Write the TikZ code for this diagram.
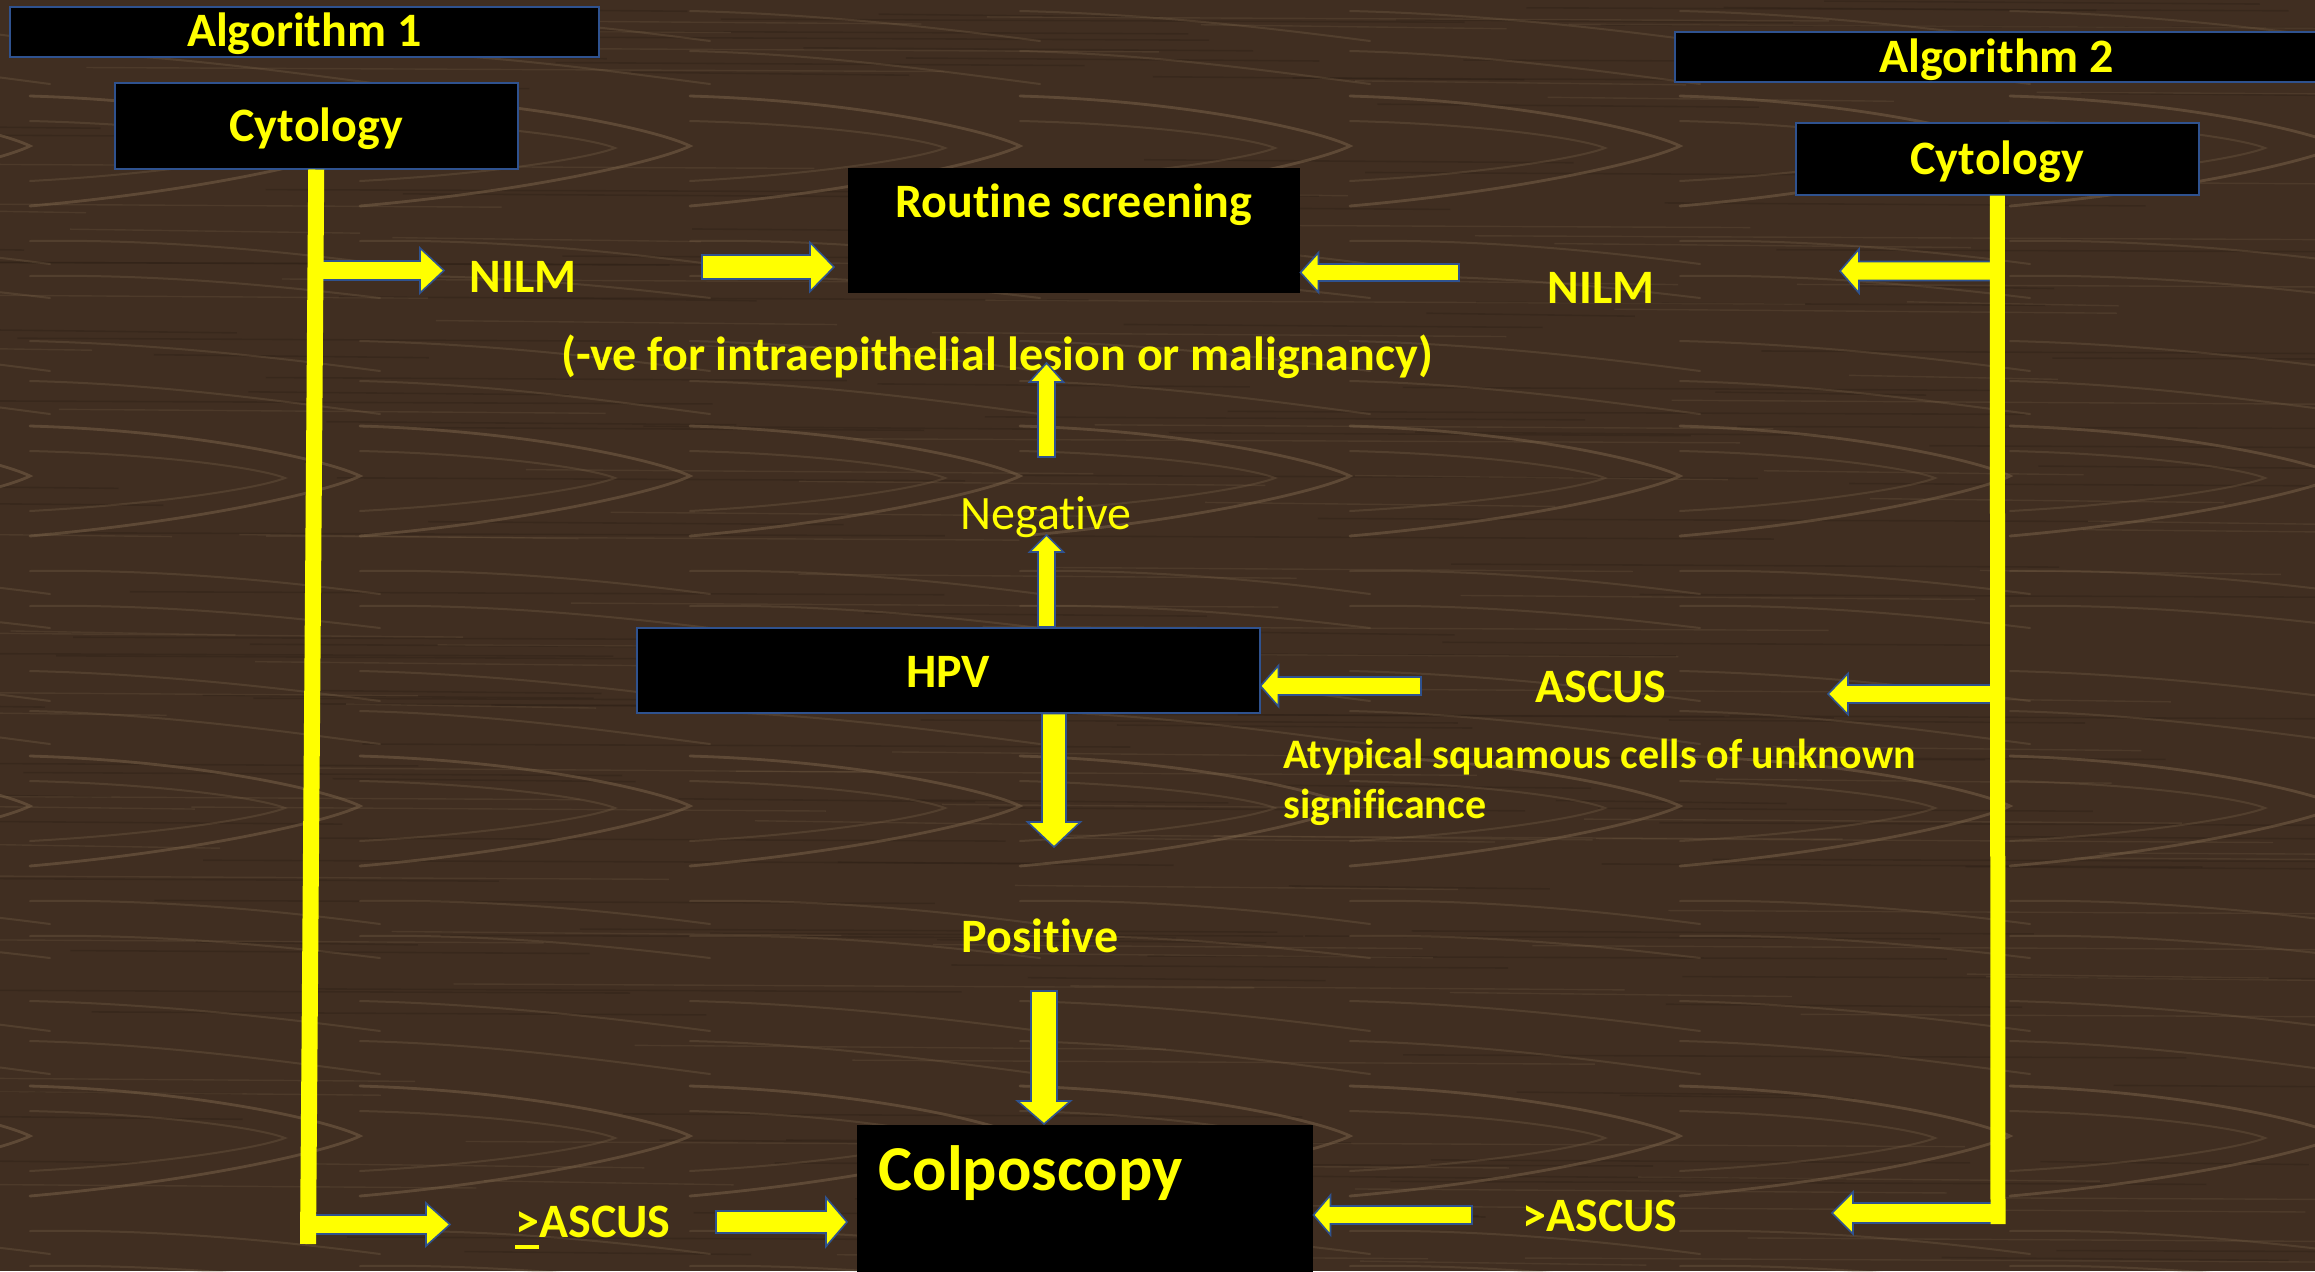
\documentclass[tikz,border=0pt]{standalone}
\usepackage{fontspec}
\setmainfont{Carlito}[Ligatures=NoCommon]
\usetikzlibrary{calc}
\definecolor{woodbase}{RGB}{64,46,33}
\definecolor{grainc}{RGB}{132,108,80}
\definecolor{darkgrain}{RGB}{40,28,19}
\definecolor{ylw}{RGB}{255,255,0}
\definecolor{outlineblue}{RGB}{47,82,143}
\newcommand\ulgt{\setbox0=\hbox{>}\rlap{\rule[-6pt]{\wd0}{2pt}}\box0}
\begin{document}
\begin{tikzpicture}[x=0.5pt,y=-0.5pt,
  grain/.style={draw=grainc, line width=1.4pt, opacity=0.45, line cap=round},
  faint/.style={draw=grainc, line width=1pt, opacity=0.28, line cap=round},
  streakd/.style={draw=darkgrain, line width=0.8pt, opacity=0.3},
  streakl/.style={draw=grainc, line width=0.7pt, opacity=0.2},
  box/.style={fill=black, draw=outlineblue, line width=0.75pt, inner sep=0pt,
    text=ylw, font=\bfseries\fontsize{24}{29}\selectfont},
  txt/.style={text=ylw, inner sep=0pt, font=\bfseries\fontsize{24}{29}\selectfont},
  vline/.style={draw=ylw, line cap=butt},
  blockarrow/.style n args={3}{fill=ylw, draw=outlineblue, line width=0.8pt, line join=miter,
    to path={let \p1=(\tikztostart), \p2=(\tikztotarget),
      \n3={veclen(\x2-\x1,\y2-\y1)}, \n1={(\x2-\x1)/\n3}, \n2={(\y2-\y1)/\n3},
      \n4={#1*0.5}, \n5={#2*0.5}, \n6={#3*0.5} in
      ({\x1-(\n2)*\n4},{\y1+(\n1)*\n4})
      -- ({\x2-(\n1)*\n6-(\n2)*\n4},{\y2-(\n2)*\n6+(\n1)*\n4})
      -- ({\x2-(\n1)*\n6-(\n2)*\n5},{\y2-(\n2)*\n6+(\n1)*\n5})
      -- (\p2)
      -- ({\x2-(\n1)*\n6+(\n2)*\n5},{\y2-(\n2)*\n6-(\n1)*\n5})
      -- ({\x2-(\n1)*\n6+(\n2)*\n4},{\y2-(\n2)*\n6-(\n1)*\n4})
      -- ({\x1+(\n2)*\n4},{\y1-(\n1)*\n4})
      -- cycle}}
]
\useasboundingbox (0,0) rectangle (2315,1271);
% ---------- wood background ----------
\begin{scope}
\clip (0,0) rectangle (2315,1271);
\fill[woodbase] (0,0) rectangle (2315,1271);
\pgfmathsetseed{11}
\foreach \i in {1,...,160}{
  \pgfmathsetmacro\yy{rnd*1271}
  \pgfmathsetmacro\xx{rnd*2315-200}
  \pgfmathsetmacro\ll{200+rnd*700}
  \draw[streakd] (\xx,\yy) -- ++(\ll,3);
}
\foreach \i in {1,...,120}{
  \pgfmathsetmacro\yy{rnd*1271}
  \pgfmathsetmacro\xx{rnd*2315-200}
  \pgfmathsetmacro\ll{200+rnd*700}
  \draw[streakl] (\xx,\yy) -- ++(\ll,4);
}
\foreach \tx in {30,360,...,2340}{
  \foreach \ty in {146,476,806,1136}{
    \draw[grain] (\tx-330,\ty-50) .. controls (\tx-160,\ty-45) and (\tx-30,\ty-15) .. (\tx,\ty)
      .. controls (\tx-30,\ty+15) and (\tx-160,\ty+45) .. (\tx-330,\ty+60);
    \draw[faint] (\tx-330,\ty-25) .. controls (\tx-200,\ty-22) and (\tx-100,\ty-8) .. (\tx-75,\ty+2)
      .. controls (\tx-100,\ty+12) and (\tx-200,\ty+28) .. (\tx-330,\ty+35);
    \draw[faint] (\tx-330,\ty-95) .. controls (\tx-200,\ty-92) and (\tx-80,\ty-75) .. (\tx+20,\ty-62);
    \draw[faint] (\tx-330,\ty-135) .. controls (\tx-200,\ty-132) and (\tx-80,\ty-118) .. (\tx+20,\ty-105);
    \draw[faint] (\tx-330,\ty+95) .. controls (\tx-200,\ty+93) and (\tx-80,\ty+105) .. (\tx+20,\ty+118);
    \draw[faint] (\tx-330,\ty+130) .. controls (\tx-200,\ty+128) and (\tx-80,\ty+140) .. (\tx+20,\ty+152);
  }
}
\end{scope}
% ---------- boxes ----------
\node[box, anchor=north west, minimum width=294.5pt, text height=20pt, text depth=5pt] (alg1) at (9,6) {Algorithm 1};
\node[box, anchor=north west, minimum width=322pt, text height=20.5pt, text depth=4.5pt] (alg2) at (1674,31) {Algorithm 2};
\node[box, anchor=north west, minimum width=201.5pt, text height=29.5pt, text depth=13.5pt] (cyt1) at (114,82) {Cytology};
\node[box, anchor=north west, minimum width=201.5pt, text height=26pt, text depth=10pt] (cyt2) at (1795,122) {Cytology};
\node[box, draw=none, anchor=north west, minimum width=226pt, text height=25pt, text depth=37.5pt] (routine) at (847,167) {Routine screening};
\node[box, anchor=north west, minimum width=311.5pt, text height=30pt, text depth=12.5pt] (hpv) at (636,627) {HPV};
\node[box, draw=none, anchor=north west, inner xsep=11pt, text width=206pt, align=left,
  text height=33pt, text depth=45pt, font=\bfseries\fontsize{32}{38}\selectfont] (colpo) at (856,1124) {Colposcopy};
% ---------- texts ----------
\node[txt, anchor=base] (nilmL) at (523,292) {NILM};
\node[txt, anchor=base] (nilmR) at (1601,303) {NILM};
\node[txt, anchor=base] (negnote) at (997,370) {(-ve for intraepithelial lesion or malignancy)};
\node[txt, anchor=base, font=\fontsize{24}{29}\selectfont] (negative) at (1046,529) {Negative};
\node[txt, anchor=base] (ascus) at (1601,702) {ASCUS};
\node[txt, anchor=base west, align=left, font=\bfseries\fontsize{21}{25}\selectfont] (atyp) at (1283,818) {Atypical squamous cells of unknown\\significance};
\node[txt, anchor=base] (pos) at (1040,952) {Positive};
\node[txt, anchor=base] (gascL) at (593,1237) {\ulgt ASCUS};
\node[txt, anchor=base] (gascR) at (1600,1231) {>ASCUS};
% ---------- arrow end points ----------
\coordinate (a1s) at (314,270.5);  \coordinate (a1t) at (444,270.5);
\coordinate (a2s) at (702,267);    \coordinate (a2t) at (834,267);
\coordinate (a3s) at (1459,272.5);
\coordinate (a4s) at (2000,271);   \coordinate (a4t) at (1840,271);
\coordinate (a5s) at (1046.5,457); \coordinate (a5t) at (1046.5,363);
\coordinate (a6t) at (1046.5,535);
\coordinate (a7t) at (1054,847);
\coordinate (a8s) at (1044,991);
\coordinate (a9s) at (1421,686);
\coordinate (a10s) at (2000,694);  \coordinate (a10t) at (1828,694);
\coordinate (a11s) at (308,1224.5); \coordinate (a11t) at (450,1224.5);
\coordinate (a12s) at (716,1222);  \coordinate (a12t) at (847,1222);
\coordinate (a13s) at (1472,1215);
\coordinate (a14s) at (1998,1213); \coordinate (a14t) at (1832,1213);
\coordinate (l1b) at (308,1244);
\coordinate (l2b) at (1998,1224);
% ---------- block arrows ----------
\draw[blockarrow={9.5}{22.5}{24}] (a1s) to (a1t);
\draw[blockarrow={12}{24.5}{24}] (a2s) to (a2t);
\draw[blockarrow={8.5}{20}{18}] (a3s) to (routine.east |- a3s);
\draw[blockarrow={9.5}{22}{19}] (a4s) to (a4t);
\draw[blockarrow={8.5}{17}{19}] (a5s) to (a5t);
\draw[blockarrow={8.5}{17}{17}] (hpv.north -| a6t) to (a6t);
\draw[blockarrow={12}{26.5}{25}] (hpv.south -| a7t) to (a7t);
\draw[blockarrow={13}{26.5}{23}] (a8s) to (colpo.north -| a8s);
\draw[blockarrow={9}{20.5}{18}] (a9s) to (hpv.east |- a9s);
\draw[blockarrow={9}{20.5}{20}] (a10s) to (a10t);
\draw[blockarrow={9.5}{21.5}{24}] (a11s) to (a11t);
\draw[blockarrow={11}{24.5}{21}] (a12s) to (a12t);
\draw[blockarrow={9}{20}{17}] (a13s) to (colpo.east |- a13s);
\draw[blockarrow={10}{21}{21}] (a14s) to (a14t);
% ---------- vertical lines ----------
\draw[vline, line width=8pt] (cyt1.south) -- (l1b);
\draw[vline, line width=7.5pt] (cyt2.south) -- (l2b);
\end{tikzpicture}
\end{document}
